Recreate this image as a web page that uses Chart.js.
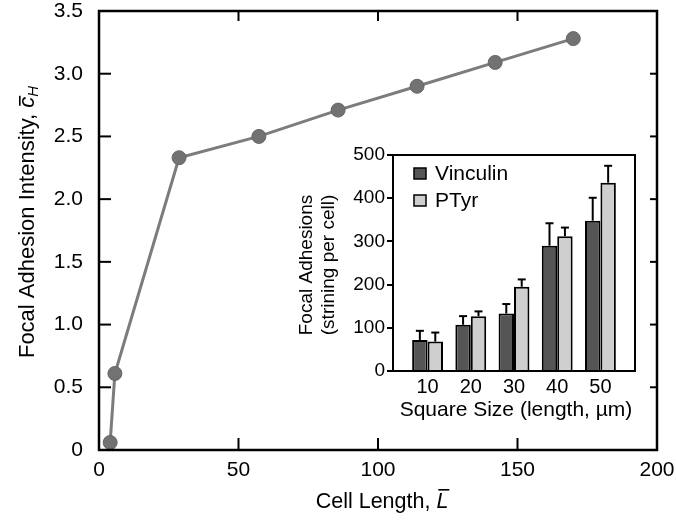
<!DOCTYPE html>
<html>
<head>
<meta charset="utf-8">
<script src="https://cdn.jsdelivr.net/npm/chart.js@4.4.0/dist/chart.umd.min.js"></script>
<style>
body{margin:0;background:#fff;}
#wrap{position:relative;width:676px;height:524px;}
#mainChart{position:absolute;left:0;top:0;}
#insetChart{position:absolute;left:290px;top:140px;}
</style>
</head>
<body>
<div id="wrap">
<canvas id="mainChart" width="676" height="524"></canvas>
<canvas id="insetChart" width="355" height="290"></canvas>
</div>
<script>
// main plot data
var cellLength = [4, 5.7, 28.7, 57.3, 85.7, 114, 142, 170];
var intensity = [0.06, 0.61, 2.33, 2.5, 2.71, 2.9, 3.09, 3.28];
var mainXTicks = [0, 50, 100, 150, 200];
var mainYTicks = [0, 0.5, 1.0, 1.5, 2.0, 2.5, 3.0, 3.5];

// inset data
var squareSize = [10, 20, 30, 40, 50];
var vinculin = [72, 107, 133, 290, 348];
var vinculinErr = [21, 20, 22, 52, 53];
var ptyr = [68, 127, 195, 312, 436];
var ptyrErr = [21, 11, 17, 20, 39];
var insetYTicks = [0, 100, 200, 300, 400, 500];

var FONT = '"Liberation Sans", Arial, sans-serif';
Chart.defaults.font.family = FONT;
Chart.defaults.color = '#000';

function drawRich(ctx, parts, cx, cy, angle) {
    ctx.save();
    ctx.translate(cx, cy);
    ctx.rotate(angle);
    var total = 0;
    parts.forEach(function(p){
        ctx.font = p.font;
        p.w = ctx.measureText(p.text).width;
        total += p.w;
    });
    var x = -total / 2;
    ctx.textBaseline = 'middle';
    ctx.textAlign = 'left';
    ctx.fillStyle = '#000';
    parts.forEach(function(p){
        ctx.font = p.font;
        ctx.fillText(p.text, x, p.dy || 0);
        if (p.bar) {
            ctx.fillRect(x + 2, p.bar, p.w - 1, 1.6);
        }
        x += p.w;
    });
    ctx.restore();
}

function line(ctx, x1, y1, x2, y2){
    ctx.beginPath();
    ctx.moveTo(x1, y1);
    ctx.lineTo(x2, y2);
    ctx.stroke();
}

function noPad(s){
    s.paddingTop = 0;
    s.paddingBottom = 0;
    s.paddingLeft = 0;
    s.paddingRight = 0;
}

var mainFrame = {
    id: 'mainFrame',
    afterDraw: function(chart){
        var ctx = chart.ctx, a = chart.chartArea;
        ctx.save();
        ctx.strokeStyle = '#000';
        ctx.lineWidth = 2;
        mainYTicks.forEach(function(v){
            var y = chart.scales.y.getPixelForValue(v);
            line(ctx, a.left, y, a.left + 12, y);
            line(ctx, a.right - 7, y, a.right, y);
        });
        mainXTicks.slice(1, -1).forEach(function(v){
            var x = chart.scales.x.getPixelForValue(v);
            line(ctx, x, a.bottom, x, a.bottom - 12);
            line(ctx, x, a.top, x, a.top + 10);
        });
        ctx.lineWidth = 2.5;
        ctx.strokeRect(a.left, a.top, a.right - a.left, a.bottom - a.top);
        ctx.restore();

        drawRich(ctx, [
            {text: 'Focal Adhesion Intensity, ', font: '22px ' + FONT},
            {text: 'c', font: 'italic 22px ' + FONT, bar: -9},
            {text: 'H', font: 'italic 15px ' + FONT, dy: 6}
        ], 28, 222, -Math.PI / 2);
        drawRich(ctx, [
            {text: 'Cell Length, ', font: '21.5px ' + FONT},
            {text: 'L', font: 'italic 21.5px ' + FONT, bar: -13}
        ], 382, 502, 0);
    }
};

new Chart(document.getElementById('mainChart'), {
    type: 'line',
    data: {
        datasets: [{
            data: cellLength.map(function(x, i){ return {x: x, y: intensity[i]}; }),
            borderColor: '#7c7c7c',
            borderWidth: 3,
            pointRadius: 7,
            pointBackgroundColor: '#727272',
            pointBorderColor: '#666666',
            pointBorderWidth: 1,
            tension: 0
        }]
    },
    options: {
        responsive: false,
        animation: false,
        layout: {padding: {left: 0, right: 19, top: 11, bottom: 0}},
        plugins: {legend: {display: false}, tooltip: {enabled: false}},
        scales: {
            x: {
                type: 'linear', min: 0, max: 200,
                grid: {display: false, tickLength: 0}, border: {display: false},
                afterBuildTicks: function(s){ s.ticks = mainXTicks.map(function(v){ return {value: v}; }); },
                ticks: {font: {size: 21}, color: '#000', padding: 8, maxRotation: 0},
                afterFit: function(s){ s.height = 74; noPad(s); }
            },
            y: {
                min: 0, max: 3.5,
                grid: {display: false, tickLength: 0}, border: {display: false},
                afterBuildTicks: function(s){ s.ticks = mainYTicks.map(function(v){ return {value: v}; }); },
                ticks: {
                    font: {size: 21}, color: '#000', padding: 16,
                    callback: function(v){ return v === 0 ? '0' : v.toFixed(1); }
                },
                afterFit: function(s){ s.width = 99; noPad(s); }
            }
        }
    },
    plugins: [mainFrame]
});

var insetExtras = {
    id: 'insetExtras',
    afterDatasetsDraw: function(chart){
        var ctx = chart.ctx, ys = chart.scales.y;
        ctx.save();
        ctx.strokeStyle = '#000';
        ctx.lineWidth = 2;
        [vinculinErr, ptyrErr].forEach(function(errs, di){
            var meta = chart.getDatasetMeta(di);
            meta.data.forEach(function(bar, i){
                var v = chart.data.datasets[di].data[i].y;
                var yTop = ys.getPixelForValue(v + errs[i]);
                line(ctx, bar.x, bar.y, bar.x, yTop);
                line(ctx, bar.x - 4, yTop, bar.x + 4, yTop);
            });
        });
        ctx.restore();
    },
    afterDraw: function(chart){
        var ctx = chart.ctx, a = chart.chartArea;
        ctx.save();
        ctx.strokeStyle = '#000';
        ctx.lineWidth = 2;
        ctx.strokeRect(a.left, a.top, a.right - a.left, a.bottom - a.top);
        // legend
        chart.data.datasets.forEach(function(ds, i){
            var bx = a.left + 21, by = a.top + 13 + i * 27;
            ctx.fillStyle = ds.backgroundColor;
            ctx.fillRect(bx, by, 12, 11);
            ctx.lineWidth = 1.5;
            ctx.strokeRect(bx, by, 12, 11);
            ctx.fillStyle = '#000';
            ctx.font = '21px ' + FONT;
            ctx.textAlign = 'left';
            ctx.textBaseline = 'middle';
            ctx.fillText(ds.label, bx + 21, by + 6);
        });
        ctx.restore();
        drawRich(ctx, [{text: 'Focal Adhesions', font: '19px ' + FONT}], 17, 125, -Math.PI / 2);
        drawRich(ctx, [{text: '(strining per cell)', font: '19px ' + FONT}], 39, 125, -Math.PI / 2);
        drawRich(ctx, [{text: 'Square Size (length, \u00b5m)', font: '21px ' + FONT}], (a.left + a.right) / 2 + 2, 270, 0);
    }
};

new Chart(document.getElementById('insetChart'), {
    type: 'bar',
    data: {
        datasets: [{
            label: 'Vinculin',
            data: squareSize.map(function(x, i){ return {x: x, y: vinculin[i]}; }),
            backgroundColor: '#555555',
            borderColor: '#000',
            borderWidth: 2,
            categoryPercentage: 0.714,
            barPercentage: 1
        }, {
            label: 'PTyr',
            data: squareSize.map(function(x, i){ return {x: x, y: ptyr[i]}; }),
            backgroundColor: '#cfcfcf',
            borderColor: '#000',
            borderWidth: 2,
            categoryPercentage: 0.714,
            barPercentage: 1
        }]
    },
    options: {
        responsive: false,
        animation: false,
        layout: {padding: {left: 0, right: 10, top: 15, bottom: 0}},
        plugins: {legend: {display: false}, tooltip: {enabled: false}},
        scales: {
            x: {
                type: 'linear', min: 2, max: 58, offset: false,
                grid: {display: false, tickLength: 0}, border: {display: false},
                afterBuildTicks: function(s){ s.ticks = squareSize.map(function(v){ return {value: v}; }); },
                ticks: {font: {size: 20}, color: '#000', padding: 4, maxRotation: 0},
                afterFit: function(s){ s.height = 59; noPad(s); }
            },
            y: {
                min: 0, max: 500,
                grid: {display: true, drawOnChartArea: false, drawTicks: true, tickLength: 6, color: '#000', lineWidth: 2},
                border: {display: false},
                afterBuildTicks: function(s){ s.ticks = insetYTicks.map(function(v){ return {value: v}; }); },
                ticks: {font: {size: 19}, color: '#000', padding: 2},
                afterFit: function(s){ s.width = 103; noPad(s); }
            }
        }
    },
    plugins: [insetExtras]
});
</script>
</body>
</html>
